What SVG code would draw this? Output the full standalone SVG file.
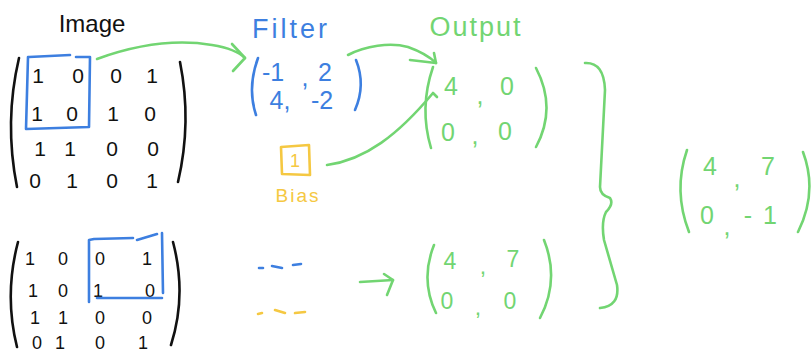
<svg xmlns="http://www.w3.org/2000/svg" width="811" height="352" viewBox="0 0 811 352">
<style>
text{font-family:"Liberation Sans","Open Sans",sans-serif;text-anchor:middle}
.k{fill:#111}
.b{fill:#3d7fe0}
.g{fill:#72d572}
.y{fill:#f5c842}
.d{font-size:21px}
.ds{font-size:18px}
.L{font-size:25px}
.M{font-size:23px}
.sk,.sb,.sg,.sy{fill:none;stroke-width:2.6;stroke-linecap:round;stroke-linejoin:round}
.sk{stroke:#111}
.sb{stroke:#3d7fe0}
.sg{stroke:#72d572}
.sy{stroke:#f5c842}
</style>
<rect width="811" height="352" fill="#fff"/>

<g id="image-top">
<text class="k" x="92" y="32" font-size="24">Image</text>
<path class="sk" d="M19,58 Q4,122 17,187"/>
<path class="sk" d="M180,62 Q192,122 178,182"/>
<g class="k d">
<text x="38" y="83">1</text><text x="78" y="83">0</text><text x="116" y="83">0</text><text x="152" y="83">1</text>
<text x="37" y="121">1</text><text x="72" y="121">0</text><text x="113" y="121">1</text><text x="150" y="121">0</text>
<text x="40" y="156">1</text><text x="70" y="156">1</text><text x="112" y="156">0</text><text x="153" y="156">0</text>
<text x="35" y="188">0</text><text x="72" y="188">1</text><text x="112" y="188">0</text><text x="152" y="188">1</text>
</g>
<path class="sb" d="M29,57 L70,55 M76,57 L90,57 L89,127 L26,129 L28,57"/>
</g>

<g id="filter">
<text class="b" x="291" y="38" font-size="27" letter-spacing="3">Filter</text>
<path class="sb" d="M258,58 Q247,88 256,115"/>
<path class="sb" d="M356,60 Q366,85 355,110"/>
<g class="b L">
<text x="273" y="81">-1</text><text x="305" y="86">,</text><text x="325" y="81">2</text>
<text x="280" y="109">4,</text><text x="322" y="109">-2</text>
</g>
</g>

<g id="bias">
<path class="sy" d="M281,147 L309,145 L310,175 L282,174 Z"/>
<text class="y" x="295" y="167" font-size="18">1</text>
<text class="y" x="298" y="202" font-size="19" letter-spacing="2">Bias</text>
</g>

<g id="output-top">
<text class="g" x="476" y="36" font-size="27" letter-spacing="2">Output</text>
<path class="sg" d="M433,67 Q419,108 431,148"/>
<path class="sg" d="M536,68 Q557,108 536,147"/>
<g class="g L">
<text x="451" y="95">4</text><text x="480" y="104">,</text><text x="507" y="95">0</text>
<text x="448" y="141">0</text><text x="475" y="144">,</text><text x="505" y="140">0</text>
</g>
</g>

<g id="brace">
<path class="sg" d="M585,63 Q604,62 605,90 L600,187 Q600,195 610,198 Q614,204 606,212 Q601,222 604,240 L617,285 Q620,306 600,308"/>
</g>

<g id="result">
<path class="sg" d="M687,150 Q673,191 689,232"/>
<path class="sg" d="M803,152 Q818,192 798,232"/>
<g class="g L">
<text x="710" y="175">4</text><text x="737" y="187">,</text><text x="768" y="175">7</text>
<text x="707" y="224">0</text><text x="727" y="235">,</text><text x="748" y="224">-</text><text x="770" y="224">1</text>
</g>
</g>

<g id="image-bottom">
<path class="sk" d="M18,242 Q4,295 17,347"/>
<path class="sk" d="M173,242 Q187,295 171,345"/>
<g class="k ds">
<text x="30" y="265">1</text><text x="63" y="265">0</text><text x="100" y="265">0</text><text x="147" y="265">1</text>
<text x="33" y="297">1</text><text x="63" y="297">0</text><text x="98" y="297">1</text><text x="150" y="297">0</text>
<text x="35" y="324">1</text><text x="63" y="324">1</text><text x="100" y="324">0</text><text x="147" y="324">0</text>
<text x="37" y="349">0</text><text x="60" y="349">1</text><text x="100" y="349">0</text><text x="143" y="349">1</text>
</g>
<path class="sb" d="M89,302 L89,240 L94,239 L133,238 M137,240 L157,234 M162,233 L163,293 M97,298 L162,298"/>
</g>

<g id="filter-dots">
<path class="sb" d="M259,268 L263,268 M272,266 L282,268 M293,265 L301,264"/>
<path class="sy" d="M258,314 L262,313 M275,310 L285,313 M295,313 L305,312"/>
</g>

<g id="output-bottom">
<path class="sg" d="M434,245 Q420,280 436,313"/>
<path class="sg" d="M544,240 Q560,280 540,318"/>
<g class="g M">
<text x="450" y="269">4</text><text x="483" y="274">,</text><text x="513" y="267">7</text>
<text x="447" y="309">0</text><text x="478" y="315">,</text><text x="510" y="309">0</text>
</g>
</g>

<g id="connectors">
<path class="sg" d="M97,59 C130,47 170,38 212,45 C230,48 240,53 245,58"/>
<path class="sg" d="M232,44 L245,58 L233,71"/>
<path class="sg" d="M348,55 C365,46 390,42 408,47 C422,52 430,57 436,63"/>
<path class="sg" d="M410,60 L436,63 L434,53"/>
<path class="sg" d="M327,165 C365,160 398,135 433,93 L437,97"/>
<path class="sg" d="M360,282 L393,280"/>
<path class="sg" d="M384,274 L393,280 L387,295"/>
</g>
</svg>
